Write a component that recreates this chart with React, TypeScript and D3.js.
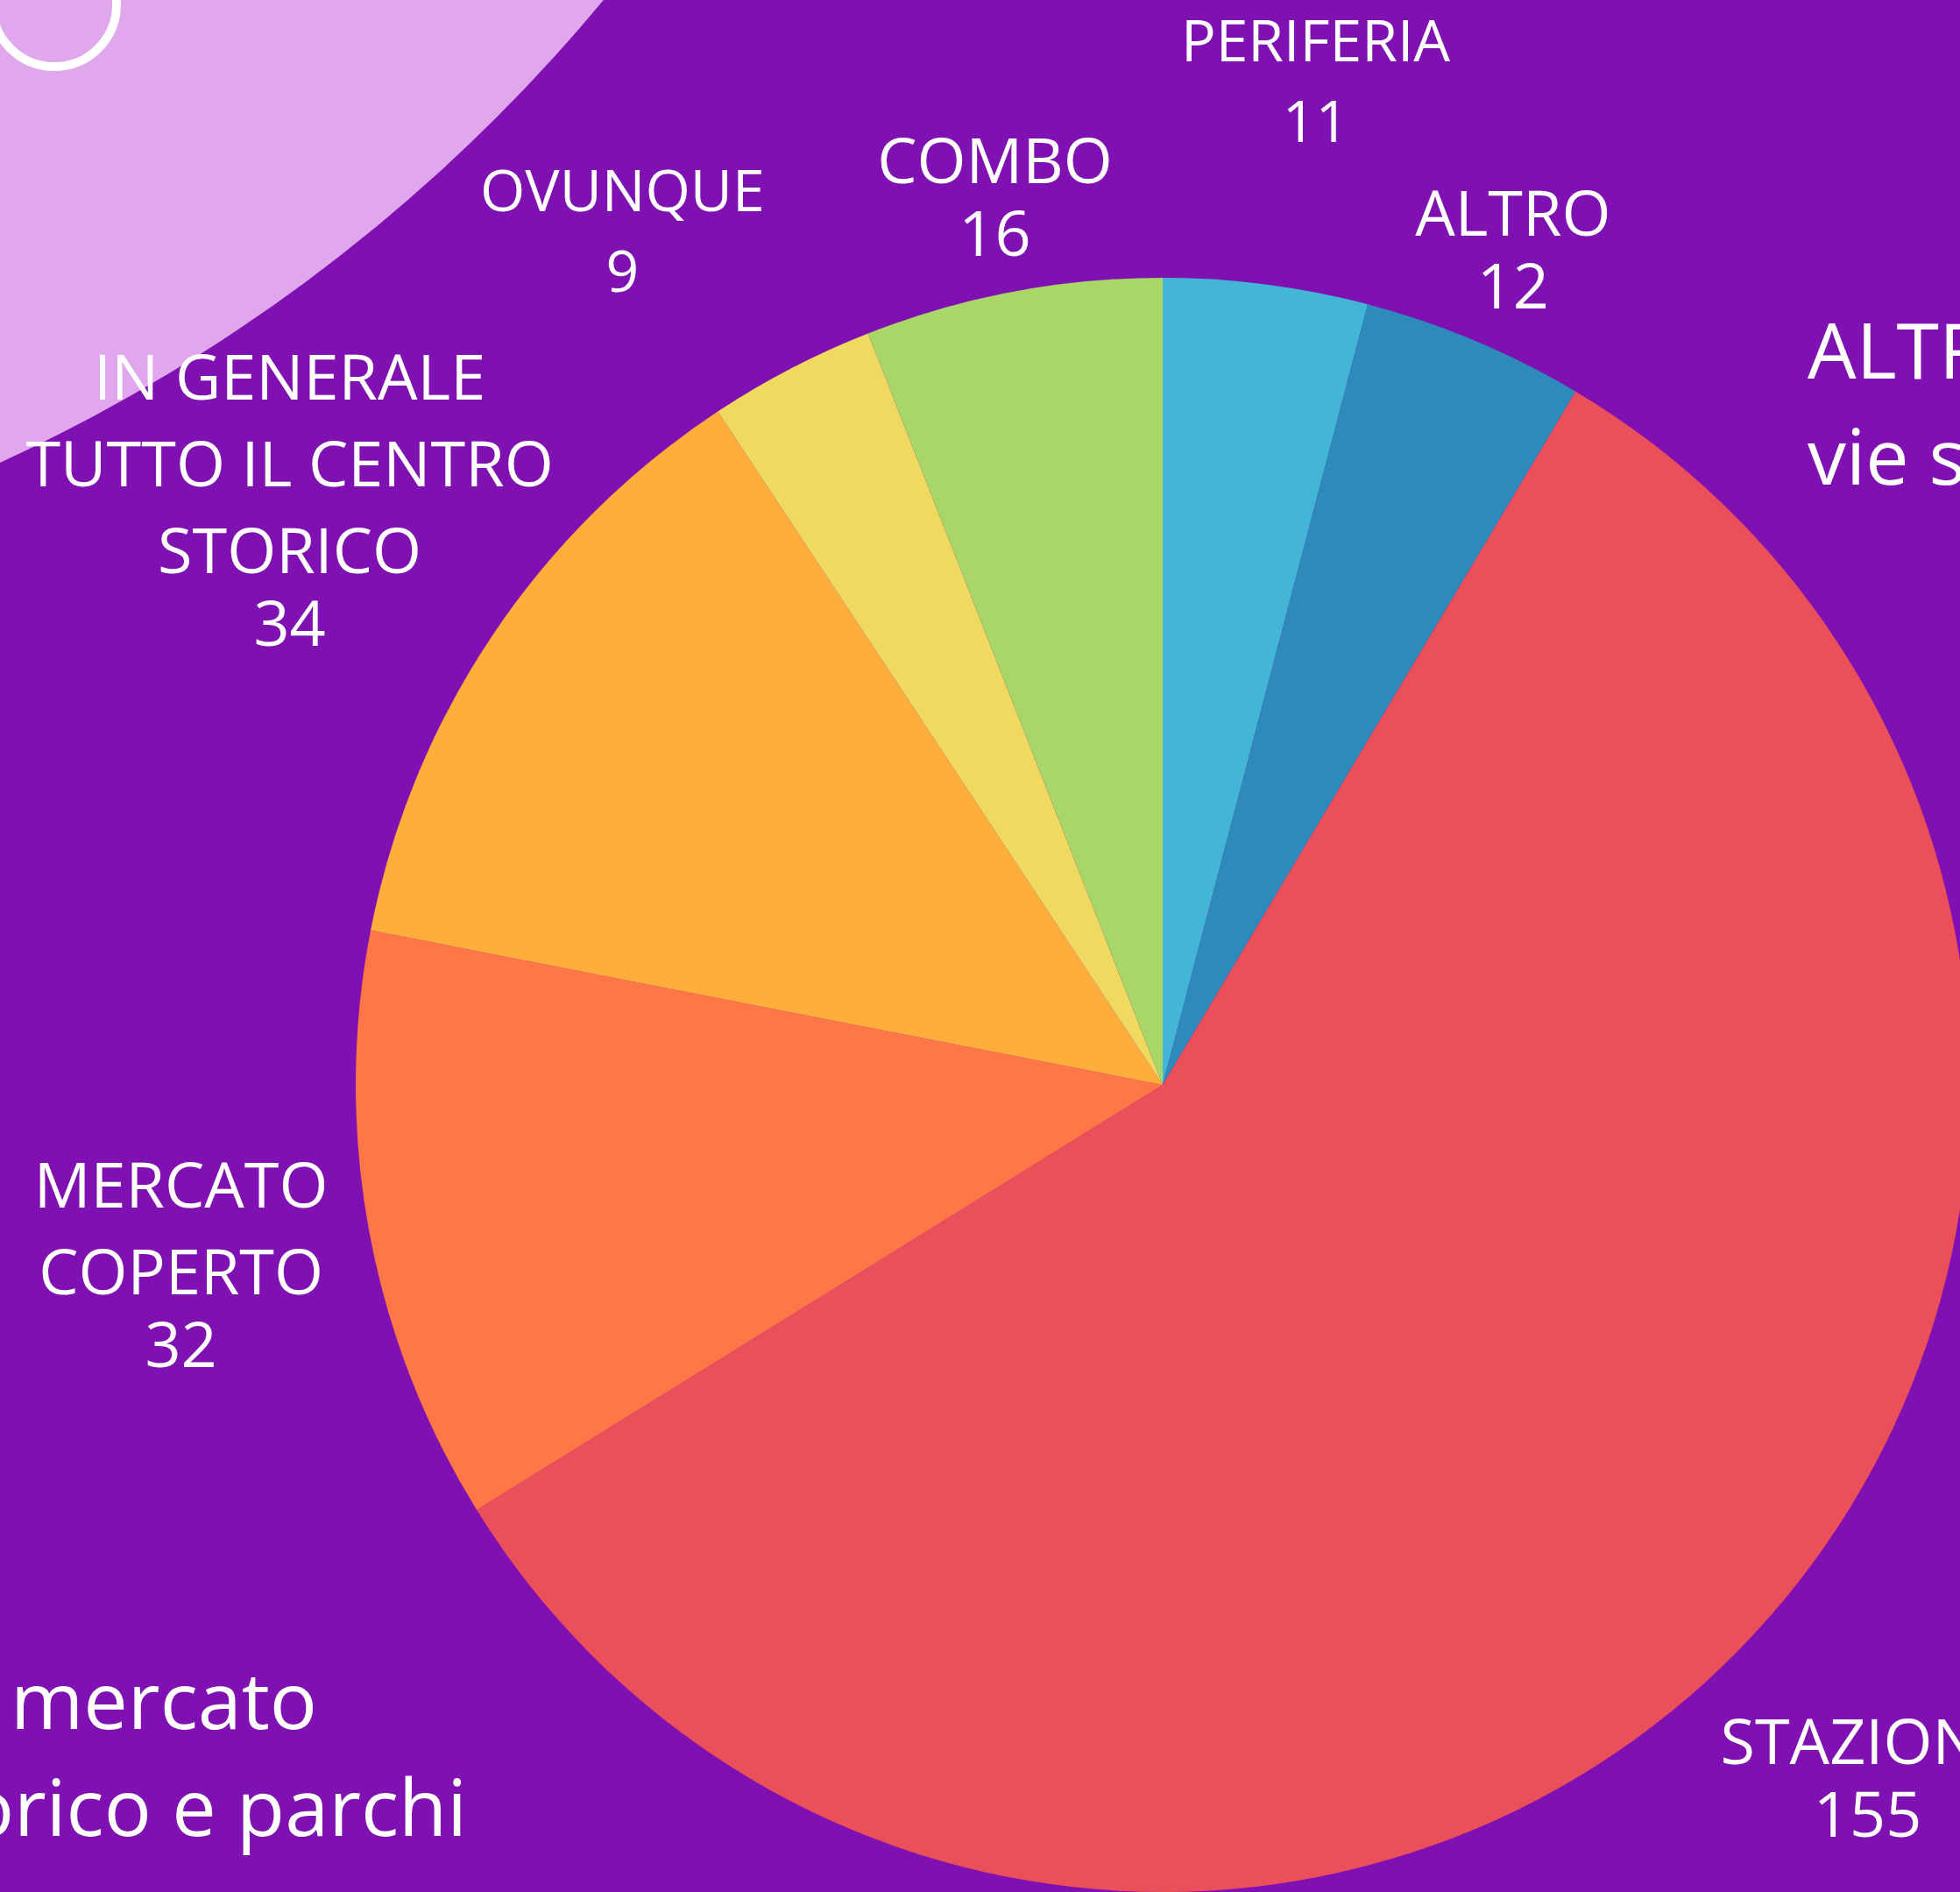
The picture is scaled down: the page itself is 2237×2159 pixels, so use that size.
import React from "react";
import * as d3 from "d3";

// slices, clockwise from 12 o'clock
const categories = [
  "PERIFERIA",
  "ALTRO",
  "STAZIONE",
  "MERCATO COPERTO",
  "IN GENERALE TUTTO IL CENTRO STORICO",
  "OVUNQUE",
  "COMBO",
];
const values = [11, 12, 155, 32, 34, 9, 16];
const labelLines = [
  ["PERIFERIA"],
  ["ALTRO"],
  ["STAZIONE"],
  ["MERCATO", "COPERTO"],
  ["IN GENERALE", "TUTTO IL CENTRO", "STORICO"],
  ["OVUNQUE"],
  ["COMBO"],
];
const sliceColors = ["#42b6d4", "#2e8aba", "#ea4f5a", "#ff7746", "#ffad3b", "#efd95f", "#a8d667"];

// side notes, cut by the page edge
const noteRight = ["ALTRI", "vie secondarie"];
const noteLeft = ["stazione, mercato", "centro storico e parchi"];

const W = 2237;
const H = 2159;
const cx = 1327;
const cy = 1238;
const radius = 921;

// label placement: distance of block centre from pie centre, angle nudge (deg), font size, gap to number
const labelDist = [1159, 1034, 1128, 1139, 1199, 1153, 1031];
const labelNudge = [1.3, 0, 0, 0, 0, -4.9, 0];
const labelSize = [66, 72, 72, 72, 72, 66, 72];
const numberGap = [92, 83, 83, 83, 83, 92, 83];

export default function App() {
  const pie = d3
    .pie<number>()
    .sort(null)
    .value((d) => d);
  const arcs = pie(values);
  const arc = d3
    .arc<d3.PieArcDatum<number>>()
    .innerRadius(0)
    .outerRadius(radius);

  return (
    <svg
      width={W}
      height={H}
      style={{ position: "absolute", left: 0, top: 0, display: "block" }}
      fontFamily="'Open Sans', sans-serif"
    >
      <rect width={W} height={H} fill="#7f10b2" />
      {/* background decoration */}
      <circle cx={-812} cy={-1245} r={1950} fill="#e1a7ed" />
      <circle cx={62} cy={5} r={71} fill="none" stroke="#fff" strokeWidth={10} />

      <g transform={`translate(${cx},${cy})`}>
        {arcs.map((a, i) => (
          <path key={categories[i]} d={arc(a) || ""} fill={sliceColors[i]} />
        ))}
        {arcs.map((a, i) => {
          const mid = (a.startAngle + a.endAngle) / 2 + (labelNudge[i] * Math.PI) / 180;
          const x = Math.sin(mid) * labelDist[i];
          const y = -Math.cos(mid) * labelDist[i];
          const fs = labelSize[i];
          const cap = fs * 0.714;
          const lineGap = (fs * 99) / 72;
          const n = labelLines[i].length;
          const h = cap + lineGap * (n - 1) + numberGap[i];
          const y0 = y - h / 2 + cap;
          return (
            <text key={categories[i]} fill="#fff" fontSize={fs} textAnchor="middle">
              {labelLines[i].map((l, j) => (
                <tspan key={j} x={x} y={y0 + j * lineGap}>
                  {l}
                </tspan>
              ))}
              <tspan x={x} y={y0 + (n - 1) * lineGap + numberGap[i]}>
                {values[i]}
              </tspan>
            </text>
          );
        })}
      </g>

      <text fill="#fff" fontSize={88}>
        {noteRight.map((t, i) => (
          <tspan key={i} x={2063} y={432 + i * 121}>
            {t}
          </tspan>
        ))}
      </text>
      <text fill="#fff" fontSize={90} textAnchor="end">
        {noteLeft.map((t, i) => (
          <tspan key={i} x={i === 0 ? 362 : 533} y={1973 + i * 122}>
            {t}
          </tspan>
        ))}
      </text>
    </svg>
  );
}
